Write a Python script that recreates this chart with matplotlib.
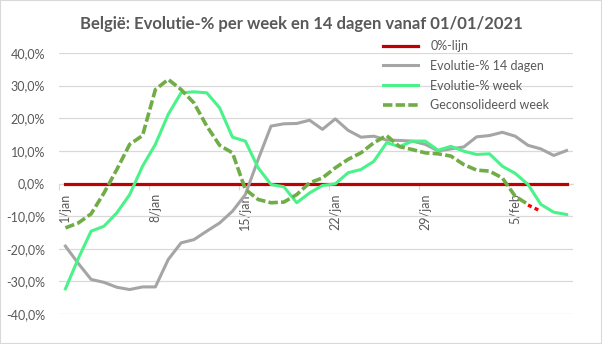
import matplotlib
matplotlib.use("Agg")
import matplotlib.pyplot as plt
from matplotlib.patches import Rectangle
from matplotlib.ticker import FuncFormatter
import numpy as np
import pandas as pd

# daily series, 1 jan - 9 feb 2021 (values in %)
days = pd.date_range("2021-01-01", "2021-02-09", freq="D")
tick_days = [0, 7, 14, 21, 28, 35]
tick_labels = ["1/jan", "8/jan", "15/jan", "22/jan", "29/jan", "5/feb"]

zero_line = [0.0] * len(days)

evol_14d = [-19.2, -24.5, -29.4, -30.3, -31.8, -32.5, -31.7, -31.7, -23.3, -18.2,
            -17.2, -14.6, -12.1, -8.5, -3.4, 7.4, 17.6, 18.3, 18.4, 19.4,
            16.6, 19.8, 16.3, 14.2, 14.5, 13.3, 13.2, 13.0, 12.0, 10.0,
            10.6, 11.2, 14.3, 14.7, 15.7, 14.5, 11.7, 10.6, 8.6, 10.1]

evol_week = [-32.3, -23.0, -14.6, -13.1, -9.0, -3.4, 5.3, 12.0, 21.2, 27.8,
             28.1, 27.8, 23.2, 14.2, 13.0, 4.8, -0.3, -1.0, -5.9, -2.9,
             -0.6, -0.1, 3.3, 4.3, 6.8, 12.5, 11.3, 13.0, 13.0, 10.2,
             11.4, 9.9, 8.9, 9.1, 5.3, 3.1, -0.3, -6.4, -8.8, -9.5]

consolidated = [-13.6, -12.1, -9.3, -2.9, 4.3, 12.0, 14.7, 28.8, 31.9, 28.8,
                24.7, 17.6, 11.7, 9.4, -1.8, -4.9, -5.9, -5.7, -3.4, 0.2,
                1.7, 4.8, 7.4, 9.4, 12.5, 14.7, 11.3, 10.4, 9.4, 9.1,
                8.4, 5.8, 4.1, 3.8, 1.7, -3.9, -6.4]

# short provisional tail after the last consolidated value
tail_days = [36, 37]
tail_values = [-6.6, -8.5]

TEXT = "#595959"
GRID = "#d9d9d9"

plt.rcParams["font.family"] = ["Lato", "DejaVu Sans"]

fig = plt.figure(figsize=(6.02, 3.44), dpi=100)
ax = fig.add_axes([59 / 602, 30 / 344, 514 / 602, 261 / 344])

x = np.arange(len(days))
ax.plot(x, zero_line, color="#C00000", lw=2.3, label="0%-lijn", zorder=3)
ax.plot(x, evol_14d, color="#A5A5A5", lw=2.2, label="Evolutie-% 14 dagen", zorder=3)
ax.plot(x, evol_week, color="#4AF28A", lw=2.2, label="Evolutie-% week", zorder=3)
ax.plot(x[:len(consolidated)], consolidated, color="#70AD47", lw=2.6,
        dashes=(2.6, 0.9), label="Geconsolideerd week", zorder=3)
ax.plot(tail_days, tail_values, color="#FF0000", lw=2.4, dashes=(1.2, 1.0), zorder=3)

ax.set_xlim(-0.5, len(days) - 0.5)
ax.set_ylim(-40, 40)
ax.set_yticks(np.arange(-40, 41, 10))
ax.yaxis.set_major_formatter(FuncFormatter(lambda v, _: f"{v:.1f}%".replace(".", ",")))
ax.grid(axis="y", color=GRID, lw=0.9)
ax.set_axisbelow(True)

ax.set_xticks(tick_days)
ax.set_xticklabels(tick_labels)
ax.set_xticks([d - 0.5 for d in tick_days], minor=True)
ax.tick_params(axis="x", which="major", length=0, pad=7, labelsize=9,
               labelcolor=TEXT, labelrotation=90)
ax.tick_params(axis="x", which="minor", length=4, color=GRID, width=0.9)
ax.tick_params(axis="y", length=0, pad=10, labelsize=9, labelcolor=TEXT)

for side in ("left", "right", "top"):
    ax.spines[side].set_visible(False)
ax.spines["bottom"].set_position(("data", 0))
ax.spines["bottom"].set_color(GRID)
ax.spines["bottom"].set_zorder(1)

fig.suptitle("België: Evolutie-% per week en 14 dagen vanaf 01/01/2021",
             x=0.5, y=1 - 29.5 / 344, va="baseline", fontsize=12,
             fontweight="bold", color=TEXT)

leg = ax.legend(loc="upper left", bbox_to_anchor=(383 / 602, 1 - 40 / 344),
                bbox_transform=fig.transFigure, frameon=False, fontsize=9,
                handlelength=2.8, handletextpad=1.0, labelspacing=0.62,
                borderpad=0, borderaxespad=0)
for t in leg.get_texts():
    t.set_color(TEXT)

fig.patches.append(Rectangle((0, 0), 1, 1, transform=fig.transFigure,
                             fill=False, edgecolor=GRID, lw=1.5))

fig.savefig("out.png", dpi=100)
